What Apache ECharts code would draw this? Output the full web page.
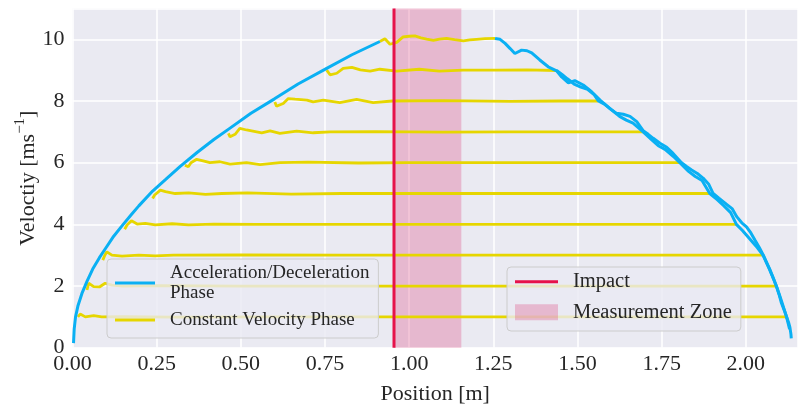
<!DOCTYPE html>
<html>
<head>
<meta charset="utf-8">
<script src="https://cdn.jsdelivr.net/npm/echarts@6/dist/echarts.min.js"></script>
<style>
	html, body { margin: 0; padding: 0; background: #ffffff; }
	#chart { width: 800px; height: 405px; }
</style>
</head>
<body>
<div id="chart"></div>
<script>
'use strict';

// acceleration curve, [position m, velocity m/s]
var accelCurve = [[0.003, 0.15], [0.005, 0.6], [0.009, 1.0], [0.016, 1.35], [0.028, 1.76], [0.043, 2.15], [0.06, 2.55], [0.08, 2.92], [0.097, 3.2], [0.12, 3.58], [0.147, 3.95], [0.175, 4.32], [0.197, 4.6], [0.238, 5.08], [0.276, 5.45], [0.32, 5.88], [0.37, 6.33], [0.42, 6.75], [0.468, 7.12], [0.53, 7.6], [0.6, 8.07], [0.67, 8.55], [0.755, 9.06], [0.83, 9.5], [0.913, 9.93]];

// deceleration traces (two overlapping runs)
var decelCurve = [[1.255, 10.03], [1.27, 10.0], [1.285, 9.87], [1.3, 9.7], [1.314, 9.54], [1.334, 9.65], [1.35, 9.63], [1.364, 9.56], [1.388, 9.33], [1.413, 9.11], [1.438, 8.98], [1.453, 8.78], [1.473, 8.59], [1.492, 8.66], [1.517, 8.52], [1.542, 8.3], [1.567, 8.03], [1.596, 7.76], [1.616, 7.6], [1.636, 7.57], [1.656, 7.5], [1.676, 7.33], [1.695, 7.04], [1.71, 6.92], [1.725, 6.79], [1.745, 6.63], [1.765, 6.5], [1.784, 6.3], [1.809, 6.0], [1.825, 5.87], [1.839, 5.76], [1.856, 5.65], [1.873, 5.5], [1.89, 5.3], [1.903, 5.0], [1.92, 4.85], [1.943, 4.65], [1.96, 4.5], [1.973, 4.25], [1.988, 4.05], [2.002, 3.92], [2.015, 3.72], [2.027, 3.49], [2.04, 3.25], [2.052, 3.0], [2.062, 2.76], [2.072, 2.52], [2.082, 2.25], [2.091, 1.98], [2.099, 1.72], [2.106, 1.44], [2.114, 1.22], [2.121, 1.0], [2.127, 0.82], [2.131, 0.66], [2.134, 0.44], [2.135, 0.3]];
var decelCurve2 = [[1.438, 8.99], [1.455, 8.85], [1.47, 8.72], [1.49, 8.55], [1.51, 8.45], [1.53, 8.38], [1.55, 8.2], [1.562, 8.0], [1.58, 7.9], [1.6, 7.72], [1.625, 7.5], [1.645, 7.38], [1.665, 7.28], [1.695, 7.0], [1.72, 6.75], [1.74, 6.55], [1.76, 6.43], [1.785, 6.2], [1.804, 6.0], [1.83, 5.72], [1.85, 5.55], [1.87, 5.42], [1.893, 5.0], [1.915, 4.8], [1.935, 4.6], [1.955, 4.38], [1.972, 4.0], [1.99, 3.8], [2.01, 3.55], [2.03, 3.3], [2.051, 3.0], [2.07, 2.55], [2.091, 2.0], [2.105, 1.55], [2.121, 1.0], [2.13, 0.6]];

// constant velocity runs
var cruise10 = [[0.913, 9.93], [0.928, 10.02], [0.943, 9.84], [0.963, 9.9], [0.982, 10.08], [1.0, 10.1], [1.017, 10.11], [1.035, 10.05], [1.052, 10.01], [1.072, 9.97], [1.09, 10.01], [1.111, 10.03], [1.135, 9.99], [1.161, 9.95], [1.18, 9.98], [1.2, 10.0], [1.225, 10.02], [1.255, 10.03]];
var cruise9 = [[0.755, 9.0], [0.765, 8.85], [0.785, 8.9], [0.804, 9.06], [0.83, 9.09], [0.855, 9.01], [0.884, 8.97], [0.913, 9.03], [0.963, 8.97], [1.03, 9.03], [1.09, 8.97], [1.16, 9.0], [1.26, 9.0], [1.35, 9.01], [1.438, 8.99]];
var cruise8 = [[0.601, 7.97], [0.606, 7.83], [0.626, 7.92], [0.641, 8.08], [0.661, 8.06], [0.696, 8.03], [0.715, 7.97], [0.745, 8.03], [0.794, 7.95], [0.844, 8.05], [0.893, 7.95], [0.95, 8.0], [1.1, 8.01], [1.3, 7.99], [1.45, 8.0], [1.562, 8.0]];
var cruise7 = [[0.463, 6.95], [0.468, 6.84], [0.483, 6.92], [0.497, 7.11], [0.517, 7.06], [0.547, 7.0], [0.562, 6.97], [0.587, 7.03], [0.616, 6.95], [0.666, 7.02], [0.715, 6.97], [0.765, 7.0], [0.9, 7.01], [1.1, 6.99], [1.3, 7.0], [1.5, 7.0], [1.695, 7.0]];
var cruise6 = [[0.334, 5.92], [0.344, 5.87], [0.352, 6.0], [0.369, 6.11], [0.388, 6.06], [0.408, 6.0], [0.438, 6.03], [0.468, 5.95], [0.517, 6.0], [0.557, 5.94], [0.616, 6.0], [0.7, 6.02], [0.85, 5.99], [1.0, 6.0], [1.3, 6.0], [1.6, 6.0], [1.804, 6.0]];
var cruise5 = [[0.238, 4.84], [0.244, 4.95], [0.261, 5.11], [0.276, 5.06], [0.305, 5.0], [0.345, 5.02], [0.395, 4.97], [0.444, 5.0], [0.52, 5.02], [0.65, 4.98], [0.8, 5.0], [1.0, 5.0], [1.3, 5.0], [1.6, 5.0], [1.893, 5.0]];
var cruise4 = [[0.155, 3.84], [0.162, 3.98], [0.175, 4.12], [0.192, 4.01], [0.216, 4.03], [0.246, 3.98], [0.296, 4.02], [0.345, 3.98], [0.42, 4.01], [0.55, 4.0], [0.8, 4.0], [1.1, 4.0], [1.5, 4.0], [1.972, 4.0]];
var cruise3 = [[0.09, 2.84], [0.096, 3.0], [0.102, 3.11], [0.117, 3.0], [0.147, 2.97], [0.197, 3.0], [0.246, 2.98], [0.3, 3.0], [0.5, 3.01], [0.8, 3.0], [1.2, 3.0], [1.6, 3.0], [2.051, 3.0]];
var cruise2 = [[0.043, 1.87], [0.048, 2.09], [0.063, 1.98], [0.08, 1.97], [0.097, 2.09], [0.117, 2.03], [0.15, 2.0], [0.25, 2.01], [0.5, 2.0], [0.9, 2.0], [1.4, 2.0], [2.091, 2.0]];
var cruise1 = [[0.016, 1.0], [0.023, 1.09], [0.038, 1.0], [0.063, 1.04], [0.087, 1.0], [0.15, 1.01], [0.3, 0.99], [0.6, 1.0], [1.0, 1.0], [1.5, 1.0], [2.121, 1.0]];

var impactX = 0.955;
var zoneStart = 0.955;
var zoneEnd = 1.155;

var BLUE = '#0ab0f3';
var YELLOW = '#e6d600';
var RED = '#e6124a';
var PINK = 'rgba(221, 71, 125, 0.3)';
var FONT = 'Liberation Serif';
var TEXT = '#262626';
var ACC = 'Acceleration/Deceleration Phase';
var CVP = 'Constant Velocity Phase';

var chart = echarts.init(document.getElementById('chart'));

var series = [];
series.push({
	name: 'Measurement Zone',
	type: 'line',
	data: [],
	symbol: 'none',
	itemStyle: { color: PINK },
	z: 1,
	markArea: {
		silent: true,
		itemStyle: { color: PINK },
		data: [[{ xAxis: zoneStart }, { xAxis: zoneEnd }]]
	}
});

[cruise10, cruise9, cruise8, cruise7, cruise6, cruise5, cruise4, cruise3, cruise2, cruise1].forEach(function (run) {
	series.push({
		name: CVP,
		type: 'line',
		data: run,
		symbol: 'none',
		lineStyle: { color: YELLOW, width: 2.8 },
		itemStyle: { color: YELLOW },
		z: 2
	});
});

[accelCurve, decelCurve, decelCurve2].forEach(function (run) {
	series.push({
		name: ACC,
		type: 'line',
		data: run,
		symbol: 'none',
		lineStyle: { color: BLUE, width: 3 },
		itemStyle: { color: BLUE },
		z: 3
	});
});

series.push({
	name: 'Impact',
	type: 'line',
	data: [[impactX, 0], [impactX, 11]],
	symbol: 'none',
	lineStyle: { color: RED, width: 3 },
	itemStyle: { color: RED },
	z: 4
});

var legendBase = {
	orient: 'vertical',
	selectedMode: false,
	backgroundColor: 'rgba(234, 234, 242, 0.8)',
	borderColor: '#cccccc',
	borderWidth: 1,
	borderRadius: 4,
	itemStyle: { borderWidth: 0 }
};

chart.setOption({
	animation: false,
	backgroundColor: '#ffffff',
	grid: { left: 72.5, right: 2, top: 8.5, bottom: 57.3, outerBoundsMode: 'none' },
	xAxis: {
		type: 'value',
		min: 0,
		max: 2.155,
		interval: 0.25,
		name: 'Position [m]',
		nameLocation: 'middle',
		nameGap: 36,
		nameMoveOverlap: false,
		nameTextStyle: { fontFamily: FONT, fontSize: 22, color: TEXT },
		axisLine: { show: false },
		axisTick: { show: false },
		axisLabel: {
			fontFamily: FONT, fontSize: 22, color: TEXT, margin: 6, showMaxLabel: false,
			formatter: function (v) { return v.toFixed(2); }
		},
		splitLine: { show: true, lineStyle: { color: '#ffffff', width: 1.5 } }
	},
	yAxis: {
		type: 'value',
		min: 0,
		max: 11,
		interval: 2,
		name: 'Veloctiy [ms{sup|\u22121}]',
		nameLocation: 'middle',
		nameGap: 29.5,
		nameMoveOverlap: false,
		nameTextStyle: {
			fontFamily: FONT, fontSize: 22, color: TEXT, lineHeight: 30,
			rich: { sup: { fontFamily: FONT, fontSize: 15, color: TEXT, verticalAlign: 'top', lineHeight: 30 } }
		},
		axisLine: { show: false },
		axisTick: { show: false },
		axisLabel: { fontFamily: FONT, fontSize: 22, color: TEXT, margin: 8, showMaxLabel: false },
		splitLine: { show: true, lineStyle: { color: '#ffffff', width: 1.5 } }
	},
	graphic: [{
		type: 'rect',
		z: -1,
		silent: true,
		shape: { x: 72.5, y: 8.5, width: 725.5, height: 339.2 },
		style: { fill: '#eaeaf2' }
	}],
	legend: [Object.assign({}, legendBase, {
		left: 107,
		top: 259,
		itemWidth: 40,
		itemHeight: 3,
		itemGap: 7,
		padding: [4, 9, 8, 8],
		textStyle: { fontFamily: FONT, fontSize: 19, lineHeight: 20, color: TEXT, padding: [0, 0, 0, 10] },
		data: [{ name: ACC, icon: 'rect' }, { name: CVP, icon: 'rect' }],
		formatter: function (name) {
			return name === ACC ? 'Acceleration/Deceleration\nPhase' : name;
		}
	}), Object.assign({}, legendBase, {
		left: 507,
		top: 267,
		itemWidth: 43,
		itemHeight: 16,
		itemGap: 8.6,
		padding: [3.7, 9, 7.7, 8],
		textStyle: { fontFamily: FONT, fontSize: 20.5, lineHeight: 22, color: TEXT, padding: [0, 0, 0, 10] },
		data: [{ name: 'Impact', icon: 'path://M0,0L43,0L43,3L0,3Z' }, { name: 'Measurement Zone', icon: 'rect' }]
	})],
	series: series
});
</script>
</body>
</html>
